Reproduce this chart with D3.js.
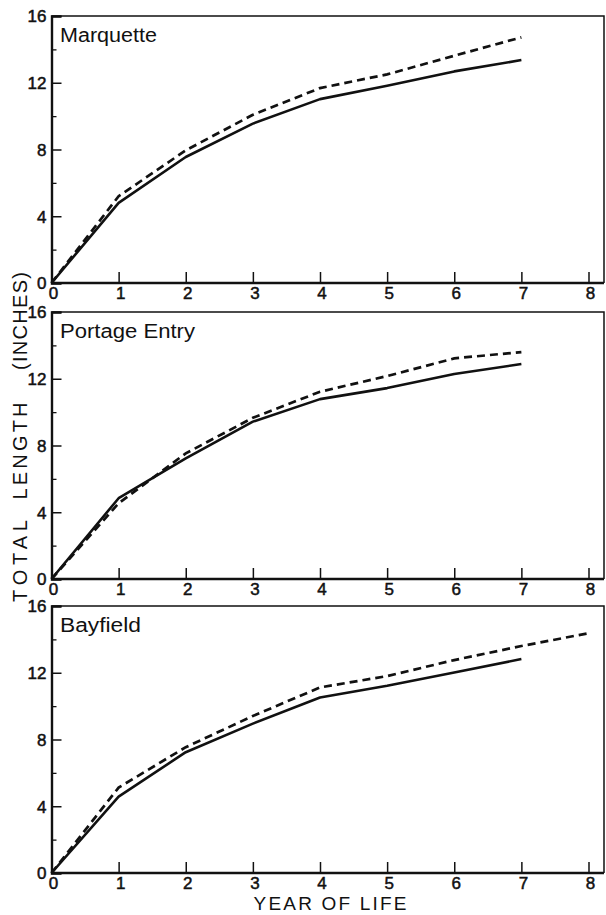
<!DOCTYPE html>
<html>
<head>
<meta charset="utf-8">
<script src="https://cdn.jsdelivr.net/npm/d3@7"></script>
<style>
  html, body { margin: 0; padding: 0; background: #fff; }
  svg { display: block; }
  text { font-family: "Liberation Sans", Arial, sans-serif; fill: #111; }
</style>
</head>
<body>
<svg id="chart" width="606" height="915"></svg>
<script>
// Growth in total length (inches) by year of life at three locations.
const years = [0, 1, 2, 3, 4, 5, 6, 7, 8];
const panelNames = ["Marquette", "Portage Entry", "Bayfield"];

// Solid curves
const marquetteSolid = [0, 4.8, 7.55, 9.55, 11.02, 11.82, 12.68, 13.36];
const portageSolid   = [0, 4.84, 7.23, 9.43, 10.78, 11.44, 12.28, 12.88];
const bayfieldSolid  = [0, 4.58, 7.24, 8.95, 10.52, 11.22, 12.02, 12.82];

// Dashed curves
const marquetteDashed = [0, 5.2, 7.95, 10.08, 11.68, 12.5, 13.62, 14.72];
const portageDashed   = [0, 4.54, 7.53, 9.66, 11.22, 12.16, 13.22, 13.6];
const bayfieldDashed  = [0, 5.12, 7.54, 9.41, 11.12, 11.8, 12.76, 13.6, 14.37];

const yMajorTicks = [0, 4, 8, 12, 16];
const yMinorTicks = [2, 6, 10, 14];
const xTickLabels = ["0", "1", "2", "3", "4", "5", "6", "7", "8"];

const solidSeries = [marquetteSolid, portageSolid, bayfieldSolid];
const dashedSeries = [marquetteDashed, portageDashed, bayfieldDashed];

const svg = d3.select("#chart");
const ink = "#111";

const left = 51.5, right = 604;
const panelTops = [16, 312, 606];
const panelH = 267;
const titleWidths = [97, 135, 81];

const x = d3.scaleLinear().domain([0, 8]).range([left, 588.5]);

function styleLabels(sel) {
  sel.attr("font-size", 17)
    .attr("font-family", "Liberation Sans, Arial, sans-serif")
    .attr("fill", ink).attr("stroke", ink).attr("stroke-width", 0.5);
}

panelTops.forEach((top, i) => {
  const y = d3.scaleLinear().domain([0, 16]).range([top + panelH, top]);
  const g = svg.append("g");

  // frame: top and right edges
  g.append("path")
    .attr("d", `M${left},${top}H${right}V${top + panelH}`)
    .attr("fill", "none").attr("stroke", ink).attr("stroke-width", 1.5);

  // left axis: major ticks inward, labels outside
  const yAxis = d3.axisRight(y).tickValues(yMajorTicks).tickSize(10).tickFormat(d3.format("d"));
  const ya = g.append("g").attr("transform", `translate(${left},0)`).call(yAxis);
  ya.select(".domain").attr("stroke", ink).attr("stroke-width", 2.4);
  ya.selectAll(".tick line").attr("stroke", ink).attr("stroke-width", 1.5);
  ya.selectAll(".tick text").attr("x", -5).attr("text-anchor", "end").attr("dy", "0.34em").call(styleLabels);

  const yMinor = d3.axisRight(y).tickValues(yMinorTicks).tickSize(5).tickFormat("");
  const ym = g.append("g").attr("transform", `translate(${left},0)`).call(yMinor);
  ym.select(".domain").remove();
  ym.selectAll(".tick line").attr("stroke", ink).attr("stroke-width", 1.3);

  // bottom axis: ticks pointing up into the plot, labels below
  const xAxis = d3.axisBottom(x).tickValues(years).tickSize(-11).tickFormat((d, k) => xTickLabels[k]);
  const xa = g.append("g").attr("transform", `translate(0,${top + panelH})`).call(xAxis);
  xa.select(".domain").attr("d", `M${left},0H${right}`).attr("stroke", ink).attr("stroke-width", 2.4);
  xa.selectAll(".tick line").attr("stroke", ink).attr("stroke-width", 1.5);
  xa.selectAll(".tick text").attr("y", 4).attr("dy", "0.71em").attr("dx", 1.5).call(styleLabels);

  // panel name
  g.append("text")
    .attr("x", 60).attr("y", top + 26)
    .attr("font-size", 20)
    .attr("font-family", "DejaVu Sans, sans-serif")
    .attr("textLength", titleWidths[i]).attr("lengthAdjust", "spacingAndGlyphs")
    .text(panelNames[i]);

  const line = d3.line().x((d, k) => x(years[k])).y(d => y(d));

  g.append("path")
    .attr("d", line(dashedSeries[i]))
    .attr("fill", "none").attr("stroke", ink).attr("stroke-width", 2.7)
    .attr("stroke-dasharray", "8,5");

  g.append("path")
    .attr("d", line(solidSeries[i]))
    .attr("fill", "none").attr("stroke", ink).attr("stroke-width", 2.6)
    .attr("stroke-linejoin", "round");
});

// x-axis title
svg.append("text")
  .attr("x", 330).attr("y", 910)
  .attr("text-anchor", "middle")
  .attr("font-size", 19)
  .attr("font-family", "DejaVu Sans, sans-serif")
  .attr("textLength", 153).attr("lengthAdjust", "spacing")
  .text("YEAR OF LIFE");

// y-axis title, spread out as three words
const yWords = [
  { t: "TOTAL", c: 561, w: 82 },
  { t: "LENGTH", c: 451, w: 97 },
  { t: "(INCHES)", c: 321, w: 98 }
];
yWords.forEach(wd => {
  svg.append("text")
    .attr("transform", `translate(27,${wd.c}) rotate(-90)`)
    .attr("text-anchor", "middle")
    .attr("font-size", 20)
    .attr("font-family", "DejaVu Sans, sans-serif")
    .attr("textLength", wd.w).attr("lengthAdjust", "spacing")
    .text(wd.t);
});
</script>
</body>
</html>
